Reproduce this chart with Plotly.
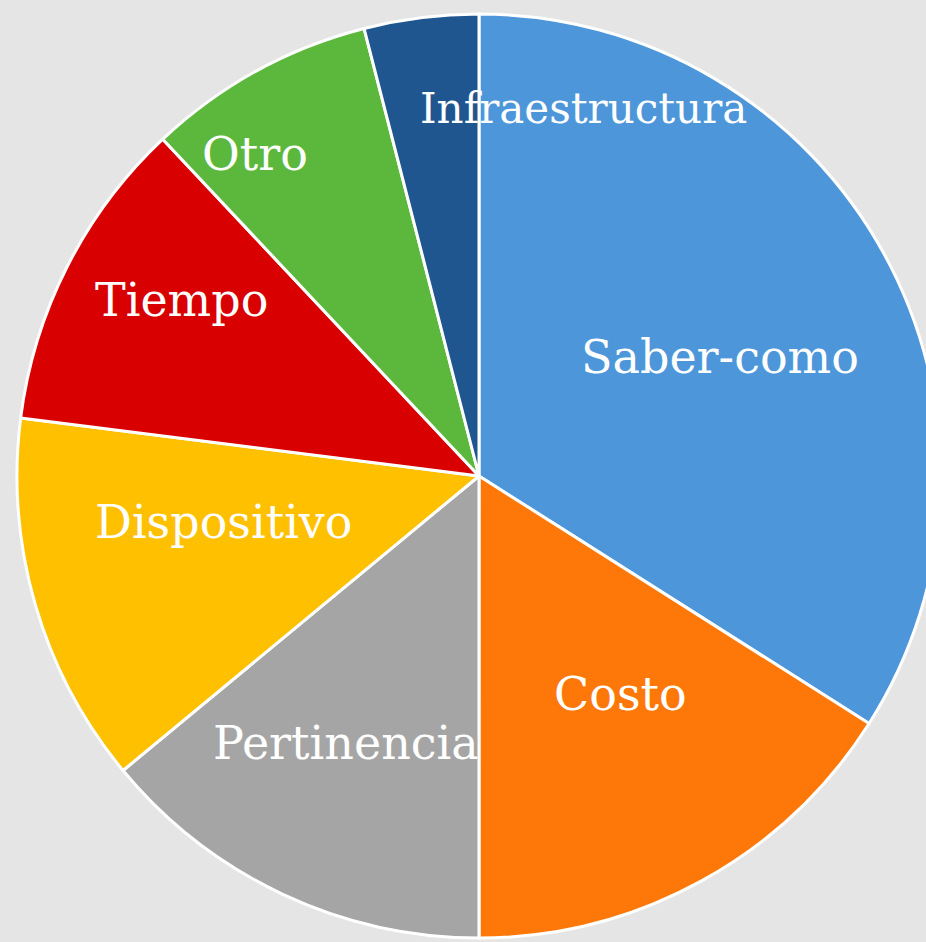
import plotly.graph_objects as go

categories = ["Saber-como", "Costo", "Pertinencia", "Dispositivo", "Tiempo", "Otro", "Infraestructura"]
values = [34, 16, 14, 13, 11, 8, 4]
colors = ["#4d96d9", "#fd7808", "#a5a5a5", "#ffc000", "#d80000", "#5cb83c", "#1f5690"]

# label centre positions (pixels) and font sizes
label_px = {
    "Saber-como": (720, 357, 46),
    "Costo": (620, 694, 46),
    "Pertinencia": (346, 743, 46),
    "Dispositivo": (224, 522, 46),
    "Tiempo": (181, 300, 46),
    "Otro": (255, 154, 46),
    "Infraestructura": (583, 109, 42),
}

W, H = 958, 942
R = 462
CX, CY = 479, 476

fig = go.Figure(go.Pie(
    labels=categories,
    values=values,
    sort=False,
    direction="clockwise",
    rotation=0,
    marker=dict(colors=colors, line=dict(color="#ffffff", width=3)),
    textinfo="none",
    hoverinfo="label+value",
    showlegend=False,
    domain=dict(x=[0, 1], y=[1 - (CY + R) / H, 1 - (CY - R) / H]),
))

for name, (px, py, fs) in label_px.items():
    fig.add_annotation(
        x=px / W, y=1 - py / H, xref="paper", yref="paper",
        text=name, showarrow=False,
        font=dict(family="DejaVu Serif", size=fs, color="white"),
        xanchor="center", yanchor="middle",
    )

fig.update_layout(
    width=W, height=H,
    margin=dict(l=0, r=0, t=0, b=0),
    paper_bgcolor="#e5e5e5",
    plot_bgcolor="#e5e5e5",
)

fig.write_html(
    "out.html",
    config={"displayModeBar": False},
    post_script=(
        "document.body.style.margin='0';"
        "document.body.style.overflow='hidden';"
        "document.documentElement.style.overflow='hidden';"
        "document.documentElement.style.background='#e5e5e5';"
        "document.body.style.background='#e5e5e5';"
    ),
)
